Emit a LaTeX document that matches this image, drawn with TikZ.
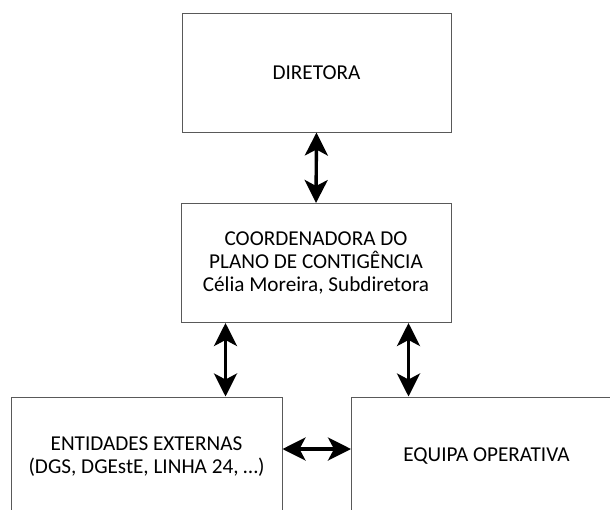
\documentclass[tikz,border=0pt]{standalone}
\usepackage{fontspec}
\setmainfont{Carlito}
\usetikzlibrary{arrows.meta,calc}
\definecolor{boxgray}{RGB}{89,89,89}
\begin{document}
\begin{tikzpicture}[x=1pt,y=-1pt,
  box/.style={draw=boxgray,line width=1pt,rectangle,inner sep=0pt,
    minimum height=119pt,align=center,
    font=\fontsize{21.2}{23}\selectfont},
  arr/.style={line width=3.4pt,{Stealth[length=23pt,width=23pt,inset=6pt]}-{Stealth[length=23pt,width=23pt,inset=6pt]}}
]
\useasboundingbox (0,0) rectangle (610,509);
\clip (0,0) rectangle (610,509);
\node[box,minimum width=269pt] (dir) at (316.5,72.5) {DIRETORA};
\node[box,minimum width=270pt] (coord) at (316,263) {COORDENADORA DO\\PLANO DE CONTIGÊNCIA\\Célia Moreira, Subdiretora};
\node[box,minimum width=271pt] (ext) at (146.5,456.5) {ENTIDADES EXTERNAS\\(DGS, DGEstE, LINHA 24, …)};
\node[box,minimum width=270pt] (equ) at (486.5,456.5) {EQUIPA OPERATIVA};
\draw[arr] (dir.south) -- (coord.north);
\draw[arr] ($(coord.south west)+(45,0)$) coordinate (a1) -- (a1 |- ext.north);
\draw[arr] ($(coord.south east)+(-43,0)$) coordinate (a2) -- (a2 |- equ.north);
\draw[arr] ($(ext.east)+(0,-7.5)$) coordinate (a3) -- (a3 -| equ.west);
\end{tikzpicture}
\end{document}
